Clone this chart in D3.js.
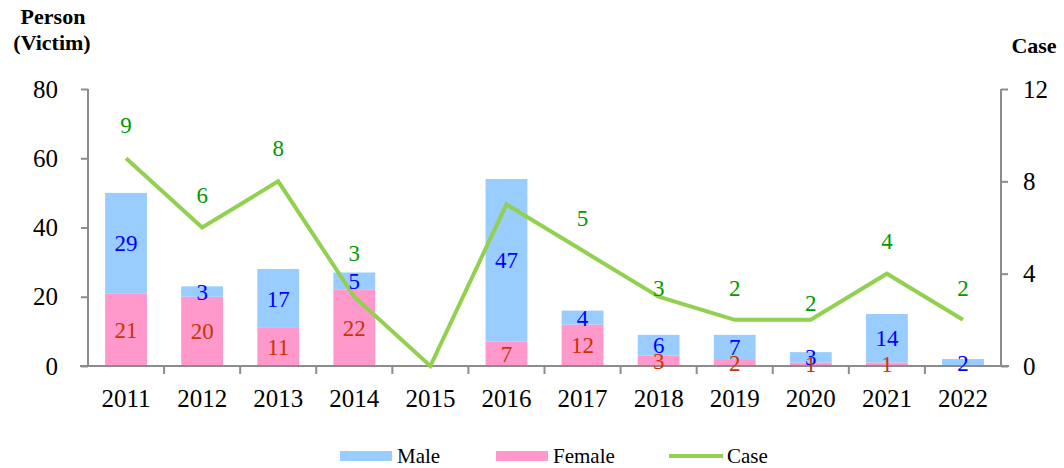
<!DOCTYPE html>
<html><head><meta charset="utf-8">
<script src="https://cdn.jsdelivr.net/npm/d3@7/dist/d3.min.js"></script>
<style>body{margin:0;background:#fff}svg{display:block}</style>
</head><body><svg id="c" width="1064" height="468" font-family="Liberation Serif"></svg>
<script>
const years = ["2011","2012","2013","2014","2015","2016","2017","2018","2019","2020","2021","2022"];
const male = [29,3,17,5,0,47,4,6,7,3,14,2];
const female = [21,20,11,22,0,7,12,3,2,1,1,0];
const cases = [9,6,8,3,0,7,5,3,2,2,4,2];
const caseLabelShown = [true,true,true,true,false,false,true,true,true,true,true,true];
const leftTicks = [0,20,40,60,80];
const rightTicks = [0,4,8,12];

// layout (not data)
const caseLabelDy = [-33,-33,-33,-44,0,0,-33,-9,-32,-17,-33,-32];
const FONT = "Liberation Serif";

const svg = d3.select("#c");
const L = 88, R = 1001, T = 89, B = 366;
const x = d3.scaleBand().domain(years).range([L, R]).paddingInner(0.45).paddingOuter(0.225);
const xb = d3.scaleBand().domain(years).range([L, R]);
const y = d3.scaleLinear().domain([0, 80]).range([B, T]);
const y2 = d3.scaleLinear().domain([0, 12]).range([B, T]);
const axisColor = "#8c8c8c";

function txt(sel, size, weight) {
  return sel.attr("font-family", FONT).style("font-family", FONT)
    .attr("font-size", size).style("font-size", size + "px")
    .attr("font-weight", weight || "normal").style("font-weight", weight || "normal");
}

// bars
const g = svg.append("g");
years.forEach((yr, i) => {
  const f = female[i], m = male[i];
  if (f > 0) g.append("rect").attr("x", x(yr)).attr("width", x.bandwidth())
    .attr("y", y(f)).attr("height", y(0) - y(f)).attr("fill", "#FF99CC");
  if (m > 0) g.append("rect").attr("x", x(yr)).attr("width", x.bandwidth())
    .attr("y", y(f + m)).attr("height", y(f) - y(f + m)).attr("fill", "#99CCFF");
});

// axes
const ax = svg.append("g");
const yAxis = d3.axisLeft(y).tickValues(leftTicks).tickSize(7).tickPadding(23);
const gy = ax.append("g").attr("transform", `translate(${L},0)`).call(yAxis);
const y2Axis = d3.axisRight(y2).tickValues(rightTicks).tickSize(7).tickPadding(15);
const gy2 = ax.append("g").attr("transform", `translate(${R},0)`).call(y2Axis);
const xAxis = d3.axisBottom(xb).tickSize(0).tickPadding(23);
const gx = ax.append("g").attr("transform", `translate(0,${B})`).call(xAxis);
years.slice(1).forEach(yr => {
  gx.append("line").attr("x1", xb(yr)).attr("x2", xb(yr)).attr("y1", 0).attr("y2", 8)
    .attr("stroke", axisColor).attr("stroke-width", 2);
});
[gy, gy2, gx].forEach(a => {
  a.attr("font-family", FONT).attr("font-size", 25);
  a.select(".domain").attr("stroke", axisColor).attr("stroke-width", 2);
  a.selectAll(".tick line").attr("stroke", axisColor).attr("stroke-width", 2);
  txt(a.selectAll(".tick text"), 25).attr("fill", "#000");
});
gx.select(".domain").attr("d", `M${L-8},0H${R+8}`);
gy.select(".domain").attr("d", `M0,${T}V${B}`);
gy2.select(".domain").attr("d", `M0,${T}V${B}`);

// line
const cx = yr => xb(yr) + xb.bandwidth() / 2;
svg.append("path").datum(cases)
  .attr("d", d3.line().x((d, i) => cx(years[i])).y(d => y2(d)))
  .attr("fill", "none").attr("stroke", "#92D050").attr("stroke-width", 4).attr("stroke-linejoin", "miter");

// bar labels
const lbl = svg.append("g").attr("text-anchor", "middle");
years.forEach((yr, i) => {
  const f = female[i], m = male[i];
  if (m > 0) txt(lbl.append("text"), 23).attr("x", cx(yr)).attr("y", y(f + m / 2)).attr("dy", "0.35em")
    .attr("text-anchor", "middle").attr("fill", "#0000FF").text(m);
  if (f > 0) txt(lbl.append("text"), 23).attr("x", cx(yr)).attr("y", y(f / 2)).attr("dy", "0.35em")
    .attr("text-anchor", "middle").attr("fill", "#CC3300").text(f);
  if (caseLabelShown[i]) txt(lbl.append("text"), 23).attr("x", cx(yr)).attr("y", y2(cases[i]) + caseLabelDy[i])
    .attr("dy", "0.35em").attr("text-anchor", "middle").attr("fill", "#009900").text(cases[i]);
});

// axis titles
const tt = svg.append("g");
txt(tt.append("text"), 22, "bold").attr("text-anchor", "middle").attr("x", 53).attr("y", 24).text("Person");
txt(tt.append("text"), 22, "bold").attr("text-anchor", "middle").attr("x", 52).attr("y", 50).text("(Victim)");
txt(tt.append("text"), 22, "bold").attr("text-anchor", "middle").attr("x", 1034).attr("y", 53).text("Case");

// legend
const lg = svg.append("g");
lg.append("rect").attr("x", 340).attr("y", 451).attr("width", 52).attr("height", 10).attr("fill", "#99CCFF");
txt(lg.append("text"), 21).attr("x", 397).attr("y", 463).text("Male");
lg.append("rect").attr("x", 496).attr("y", 451).attr("width", 52).attr("height", 10).attr("fill", "#FF99CC");
txt(lg.append("text"), 21).attr("x", 553).attr("y", 463).text("Female");
lg.append("line").attr("x1", 669).attr("x2", 723).attr("y1", 456).attr("y2", 456).attr("stroke", "#92D050").attr("stroke-width", 4);
txt(lg.append("text"), 21).attr("x", 727).attr("y", 463).text("Case");
</script></body></html>
